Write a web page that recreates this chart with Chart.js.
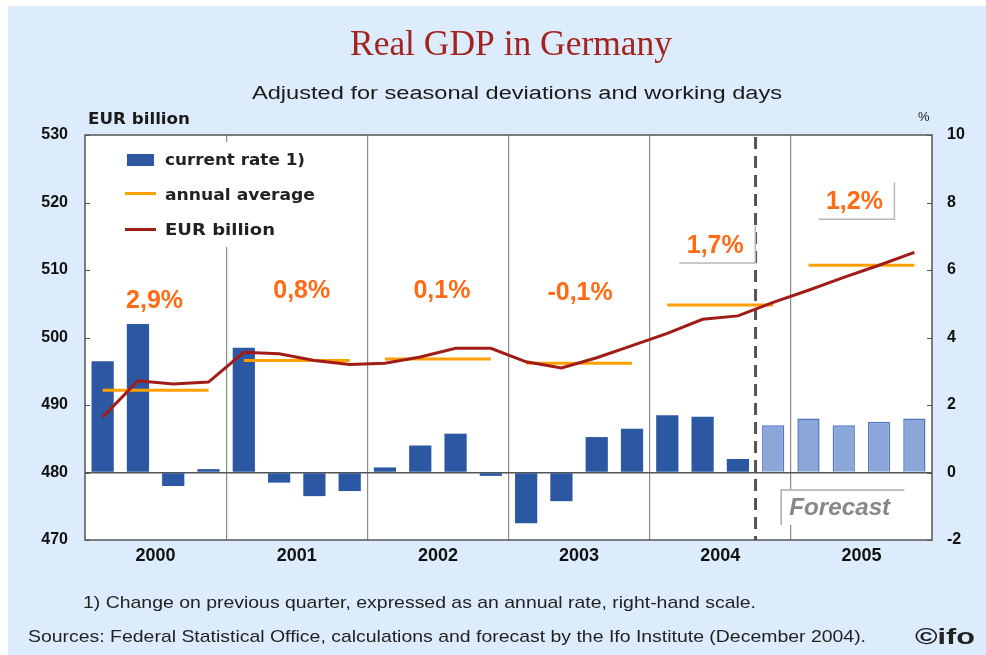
<!DOCTYPE html>
<html>
<head>
<meta charset="utf-8">
<script src="https://cdn.jsdelivr.net/npm/chart.js@4.4.0/dist/chart.umd.min.js"></script>
<style>
html, body { margin: 0; padding: 0; background: #fff; }
#wrap { width: 986px; height: 655px; }
</style>
</head>
<body>
<div id="wrap"><canvas id="gdp" width="986" height="655"></canvas></div>
<script>
// --- data ---
const years = ['2000', '2001', '2002', '2003', '2004', '2005'];
const quarters = years.flatMap(y => ['Q1', 'Q2', 'Q3', 'Q4'].map(q => y + ' ' + q));
// change on previous quarter, annual rate, % (right scale)
const rate = [3.3, 4.4, -0.4, 0.1, 3.7, -0.3, -0.7, -0.55,
              0.15, 0.8, 1.15, -0.1, -1.5, -0.85, 1.05, 1.3,
              1.7, 1.65, 0.4, 1.4, 1.6, 1.4, 1.5, 1.6];
// real GDP, EUR billion (left scale)
const gdp = [488.2, 493.6, 493.1, 493.4, 497.8, 497.6, 496.6, 496.0,
             496.2, 497.1, 498.4, 498.4, 496.4, 495.5, 497.0, 498.8,
             500.6, 502.7, 503.2, 505.2, 507.0, 508.9, 510.7, 512.6];
// annual average of GDP, EUR billion
const annualAvg = [492.2, 496.6, 496.8, 496.2, 504.8, 510.7];
const growth = ['2,9%', '0,8%', '0,1%', '-0,1%', '1,7%', '1,2%'];
const firstForecast = 19; // 2004 Q4

const BLUE = '#2c58a3';
const BLUE_LIGHT = '#8ba7da';
const ORANGE = '#ffa000';
const RED = '#a11c16';
const PCT = '#ff6a14';

const yearOf = i => Math.floor(i / 4);

function yearCenter(xs, i) {
  return (xs.getPixelForValue(i * 4 + 1) + xs.getPixelForValue(i * 4 + 2)) / 2;
}

// draw text squeezed/stretched horizontally to a given width (x = left edge)
function fitText(c, text, x, y, w) {
  const n = c.measureText(text).width;
  c.save();
  c.translate(x, y);
  c.scale(w / n, 1);
  c.textAlign = 'left';
  c.fillText(text, 0, 0);
  c.restore();
}

const decor = {
  id: 'decor',
  beforeDraw(chart) {
    const c = chart.ctx, a = chart.chartArea;
    c.save();
    c.fillStyle = '#ffffff';
    c.fillRect(0, 0, chart.width, chart.height);
    c.fillStyle = '#ddecfc';
    c.fillRect(8, 6, chart.width - 8, chart.height - 6);
    c.fillStyle = '#ffffff';
    c.fillRect(a.left, a.top, a.right - a.left, a.bottom - a.top);
    c.restore();
  },
  beforeDatasetsDraw(chart) {
    const c = chart.ctx, a = chart.chartArea;
    const xs = chart.scales.x, y1 = chart.scales.y1;
    c.save();
    // start of forecast
    const xd = (xs.getPixelForValue(firstForecast - 1) + xs.getPixelForValue(firstForecast)) / 2;
    c.strokeStyle = '#555';
    c.lineWidth = 3;
    c.setLineDash([12, 7]);
    c.beginPath();
    c.moveTo(xd, a.top + 2);
    c.lineTo(xd, a.bottom);
    c.stroke();
    c.setLineDash([]);

    // legend panel
    c.fillStyle = '#fff';
    c.fillRect(96, 142, 244, 105);
    c.fillStyle = BLUE;
    c.fillRect(127, 154, 27, 12);
    c.fillStyle = ORANGE;
    c.fillRect(125, 192, 31, 3);
    c.fillStyle = RED;
    c.fillRect(125, 228, 31, 3);
    c.fillStyle = '#222';
    c.font = 'bold 15px "DejaVu Sans"';
    c.textBaseline = 'middle';
    fitText(c, 'current rate 1)', 165, 161, 140);
    fitText(c, 'annual average', 165, 196, 150);
    fitText(c, 'EUR billion', 165, 231, 110);

    // forecast box
    const fx0 = xs.getPixelForValue(firstForecast) + 8;
    const fx1 = xs.getPixelForValue(23) - 10;
    const fy0 = y1.getPixelForValue(-0.52);
    const fy1 = y1.getPixelForValue(-1.55);
    c.fillStyle = '#fff';
    c.fillRect(fx0, fy0, fx1 - fx0, fy1 - fy0);
    c.strokeStyle = '#aaa';
    c.lineWidth = 1.5;
    c.beginPath();
    c.moveTo(fx0, fy1);
    c.lineTo(fx0, fy0);
    c.lineTo(fx1, fy0);
    c.stroke();
    c.fillStyle = '#888';
    c.font = 'italic bold 23px "Liberation Sans"';
    fitText(c, 'Forecast', fx0 + 8, (fy0 + fy1) / 2 + 1, 101);
    c.restore();
  },
  afterDatasetsDraw(chart) {
    const c = chart.ctx, xs = chart.scales.x, ys = chart.scales.y;
    const dx = [-1, 5, 4, 1, -5, -7];
    const yv = [505.6, 507.0, 507.0, 506.7, 513.7, 520.2];
    const boxed = [false, false, false, false, true, true];
    c.save();
    c.font = 'bold 25px "Liberation Sans"';
    c.textAlign = 'center';
    c.textBaseline = 'middle';
    growth.forEach((g, i) => {
      const x = yearCenter(xs, i) + dx[i];
      const y = ys.getPixelForValue(yv[i]);
      if (boxed[i]) {
        c.fillStyle = '#fff';
        c.fillRect(x - 36, y - 19, 76, 37);
        c.strokeStyle = '#b8b8b8';
        c.lineWidth = 1.5;
        c.beginPath();
        c.moveTo(x - 36, y + 18);
        c.lineTo(x + 40, y + 18);
        c.lineTo(x + 40, y - 19);
        c.stroke();
      }
      c.fillStyle = PCT;
      c.fillText(g, x, y + 1);
    });
    c.restore();
  },
  afterDraw(chart) {
    const c = chart.ctx, a = chart.chartArea;
    const ys = chart.scales.y, y1 = chart.scales.y1;
    c.save();
    // frame
    c.strokeStyle = '#555';
    c.lineWidth = 1.5;
    c.strokeRect(a.left, a.top, a.right - a.left, a.bottom - a.top);
    // inward tick marks
    c.lineWidth = 1;
    c.beginPath();
    for (let v = 470; v <= 530; v += 10) {
      const y = Math.round(ys.getPixelForValue(v)) + 0.5;
      c.moveTo(a.left, y); c.lineTo(a.left + 5, y);
    }
    for (let v = -2; v <= 10; v += 2) {
      const y = Math.round(y1.getPixelForValue(v)) + 0.5;
      c.moveTo(a.right - 5, y); c.lineTo(a.right, y);
    }
    c.stroke();

    // titles
    c.textBaseline = 'alphabetic';
    c.textAlign = 'center';
    c.fillStyle = '#a3231f';
    c.font = '35px "Liberation Serif"';
    fitText(c, 'Real GDP in Germany', 350, 55, 322);
    c.fillStyle = '#1a1a1a';
    c.font = '18px "Liberation Sans"';
    fitText(c, 'Adjusted for seasonal deviations and working days', 252, 99, 530);

    // axis units
    c.font = 'bold 15px "DejaVu Sans"';
    fitText(c, 'EUR billion', 88, 124, 102);
    c.font = '13px "Liberation Sans"';
    c.textAlign = 'left';
    c.fillText('%', 918, 121);

    // notes
    c.fillStyle = '#222';
    c.font = '17px "Liberation Sans"';
    fitText(c, '1) Change on previous quarter, expressed as an annual rate, right-hand scale.', 83, 608, 673);
    fitText(c, 'Sources: Federal Statistical Office, calculations and forecast by the Ifo Institute (December 2004).', 28, 642, 838);
    c.font = 'bold 22px "Liberation Sans"';
    fitText(c, '\u00a9ifo', 915, 644, 60);
    c.restore();
  }
};

new Chart(document.getElementById('gdp'), {
  data: {
    labels: quarters,
    datasets: [
      {
        type: 'line',
        label: 'EUR billion',
        data: gdp,
        yAxisID: 'y',
        xAxisID: 'x',
        borderColor: RED,
        borderWidth: 3,
        pointRadius: 0,
        tension: 0,
        order: 1
      },
      {
        type: 'line',
        label: 'annual average',
        data: quarters.map((q, i) => annualAvg[yearOf(i)]),
        yAxisID: 'y',
        xAxisID: 'x',
        borderColor: ORANGE,
        borderWidth: 3,
        pointRadius: 0,
        segment: {
          borderColor: ctx => yearOf(ctx.p0DataIndex) === yearOf(ctx.p1DataIndex) ? ORANGE : 'transparent'
        },
        order: 2
      },
      {
        type: 'bar',
        label: 'current rate 1)',
        data: rate,
        yAxisID: 'y1',
        xAxisID: 'x',
        backgroundColor: rate.map((v, i) => i >= firstForecast ? BLUE_LIGHT : BLUE),
        borderColor: rate.map((v, i) => i >= firstForecast ? '#4d74bd' : BLUE),
        borderWidth: rate.map((v, i) => i >= firstForecast ? 1.5 : 0),
        categoryPercentage: 1,
        barPercentage: 0.63,
        order: 3
      }
    ]
  },
  options: {
    responsive: false,
    animation: false,
    layout: { padding: { top: 135, left: 0, right: 0, bottom: 0 } },
    plugins: {
      legend: { display: false },
      tooltip: { enabled: false }
    },
    scales: {
      x: {
        type: 'category',
        position: 'bottom',
        offset: true,
        ticks: { display: false },
        border: { display: false },
        grid: {
          offset: true,
          drawTicks: false,
          lineWidth: 1.2,
          color: ctx => (ctx.index > 0 && ctx.index < 24 && ctx.index % 4 === 0) ? '#8a8a8a' : 'transparent'
        },
        afterFit: s => { s.height = 0; }
      },
      years: {
        type: 'category',
        labels: years,
        position: 'bottom',
        offset: true,
        grid: { display: false, drawTicks: false },
        border: { display: false },
        ticks: {
          color: '#111',
          font: { family: 'Liberation Sans', size: 18, weight: 'bold' },
          padding: 5,
          maxRotation: 0
        },
        afterFit: s => { s.height = 115; }
      },
      y: {
        position: 'left',
        min: 470,
        max: 530,
        ticks: {
          stepSize: 10,
          color: '#111',
          padding: 17,
          font: { family: 'Liberation Sans', size: 16, weight: 'bold' }
        },
        grid: { display: false, drawTicks: false },
        border: { display: false },
        afterFit: s => { s.width = 85; }
      },
      y1: {
        position: 'right',
        min: -2,
        max: 10,
        ticks: {
          stepSize: 2,
          color: '#111',
          padding: 15,
          font: { family: 'Liberation Sans', size: 16, weight: 'bold' }
        },
        grid: {
          drawTicks: false,
          lineWidth: 1.5,
          color: ctx => ctx.tick && ctx.tick.value === 0 ? '#555' : 'transparent'
        },
        border: { display: false },
        afterFit: s => { s.width = 54; }
      }
    }
  },
  plugins: [decor]
});
</script>
</body>
</html>
